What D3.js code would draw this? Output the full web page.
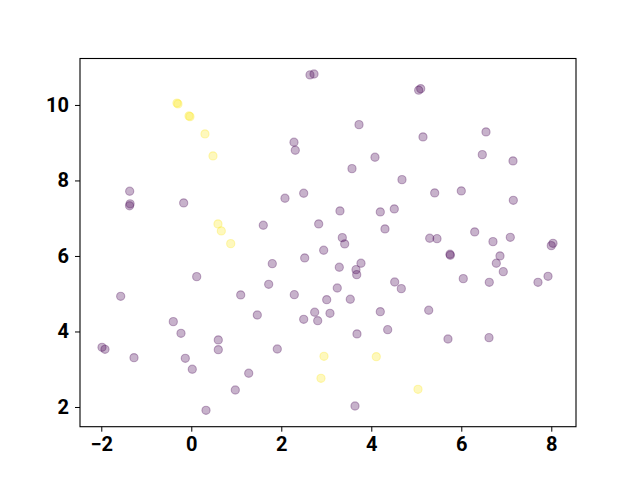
<!DOCTYPE html>
<html><head><meta charset="utf-8">
<script src="https://cdn.jsdelivr.net/npm/d3@7"></script>
<style>body{margin:0;background:#fff}</style>
</head><body>
<svg id="chart" width="640" height="480"></svg>
<script>
// Purple points (class 0)
const purpleX = [2.638,2.727,2.282,2.311,5.053,5.098,3.727,5.149,4.082,3.571,4.682,6.549,6.467,7.149,
 -1.369,-1.36,-1.372,-0.169,0.12,-1.569,2.082,2.498,1.6,2.831,2.942,2.52,1.8,1.72,1.098,2.289,3.009,
 5.409,3.304,4.2,4.511,4.304,3.356,3.409,5.298,5.46,5.749,5.756,3.289,3.771,3.66,3.676,4.52,4.667,3.244,3.533,
 6.0,7.156,6.298,7.089,6.704,8.038,8.0,6.86,6.778,6.933,6.044,6.622,7.704,7.927,
 -0.4,-0.229,-1.984,-1.918,-1.273,-0.133,0.022,0.327,1.467,2.498,2.742,2.809,3.082,0.6,0.6,1.911,1.276,0.978,
 4.2,5.276,3.682,4.364,5.704,3.638,6.616];
const purpleY = [10.795,10.82,9.012,8.8,10.39,10.43,9.478,9.152,8.615,8.313,8.021,9.285,8.684,8.517,
 7.714,7.38,7.33,7.404,5.452,4.932,7.528,7.661,6.813,6.848,6.151,5.947,5.796,5.25,4.967,4.975,4.842,
 7.669,7.192,7.166,7.245,6.715,6.485,6.318,6.469,6.458,6.045,6.019,5.701,5.807,5.637,5.505,5.311,5.134,5.152,4.853,
 7.722,7.475,6.636,6.495,6.379,6.336,6.273,6.0,5.807,5.584,5.399,5.303,5.303,5.462,
 4.26,3.952,3.581,3.528,3.306,3.29,2.999,1.913,4.437,4.323,4.509,4.286,4.482,3.775,3.518,3.536,2.893,2.45,
 4.524,4.562,3.934,4.048,3.801,2.026,3.836];
// Yellow points (class 1)
const yellowX = [-0.296,-0.318,-0.029,-0.051,0.304,0.482,0.593,0.667,0.876,2.949,2.882,4.111,5.038];
const yellowY = [10.026,10.05,9.69,9.709,9.232,8.649,6.848,6.662,6.326,3.343,2.76,3.332,2.469];
const xTicks = [-2,0,2,4,6,8];
const yTicks = [2,4,6,8,10];
const seriesColors = ["#440154","#fde725"];

const svg = d3.select("#chart");
const L = 80, R = 576, T = 58.5, B = 426.7;
const x = d3.scaleLinear().domain([-2.473, 8.549]).range([L, R]);
const y = d3.scaleLinear().domain([1.478, 11.23]).range([B, T]);

const series = [
  {xs: purpleX, ys: purpleY, color: seriesColors[0]},
  {xs: yellowX, ys: yellowY, color: seriesColors[1]}
];
const g = svg.append("g");
series.forEach(s => {
  g.selectAll(null).data(s.xs.map((v,i)=>[v, s.ys[i]])).enter().append("circle")
    .attr("cx", d => x(d[0])).attr("cy", d => y(d[1])).attr("r", 4.1)
    .attr("fill", s.color).attr("fill-opacity", 0.3)
    .attr("stroke", s.color).attr("stroke-opacity", 0.3).attr("stroke-width", 1.1);
});

const fmt = d => d < 0 ? "\u2212" + Math.abs(d) : String(d);
const xAxis = svg.append("g").attr("transform", `translate(0,${B})`)
  .call(d3.axisBottom(x).tickValues(xTicks).tickFormat(fmt).tickSize(5).tickPadding(5));
const yAxis = svg.append("g").attr("transform", `translate(${L},0)`)
  .call(d3.axisLeft(y).tickValues(yTicks).tickFormat(fmt).tickSize(5).tickPadding(6));
[xAxis, yAxis].forEach(a => {
  a.select(".domain").remove();
  a.selectAll("line").attr("stroke", "#000").attr("stroke-width", 1);
  a.selectAll("text").attr("fill", "#000")
    .style("font-family", "Roboto, sans-serif").style("font-size", "20px").style("font-weight", "bold");
});
svg.append("rect").attr("x", L).attr("y", T).attr("width", R - L).attr("height", B - T)
  .attr("fill", "none").attr("stroke", "#000").attr("stroke-width", 1.1);
</script>
</body></html>
